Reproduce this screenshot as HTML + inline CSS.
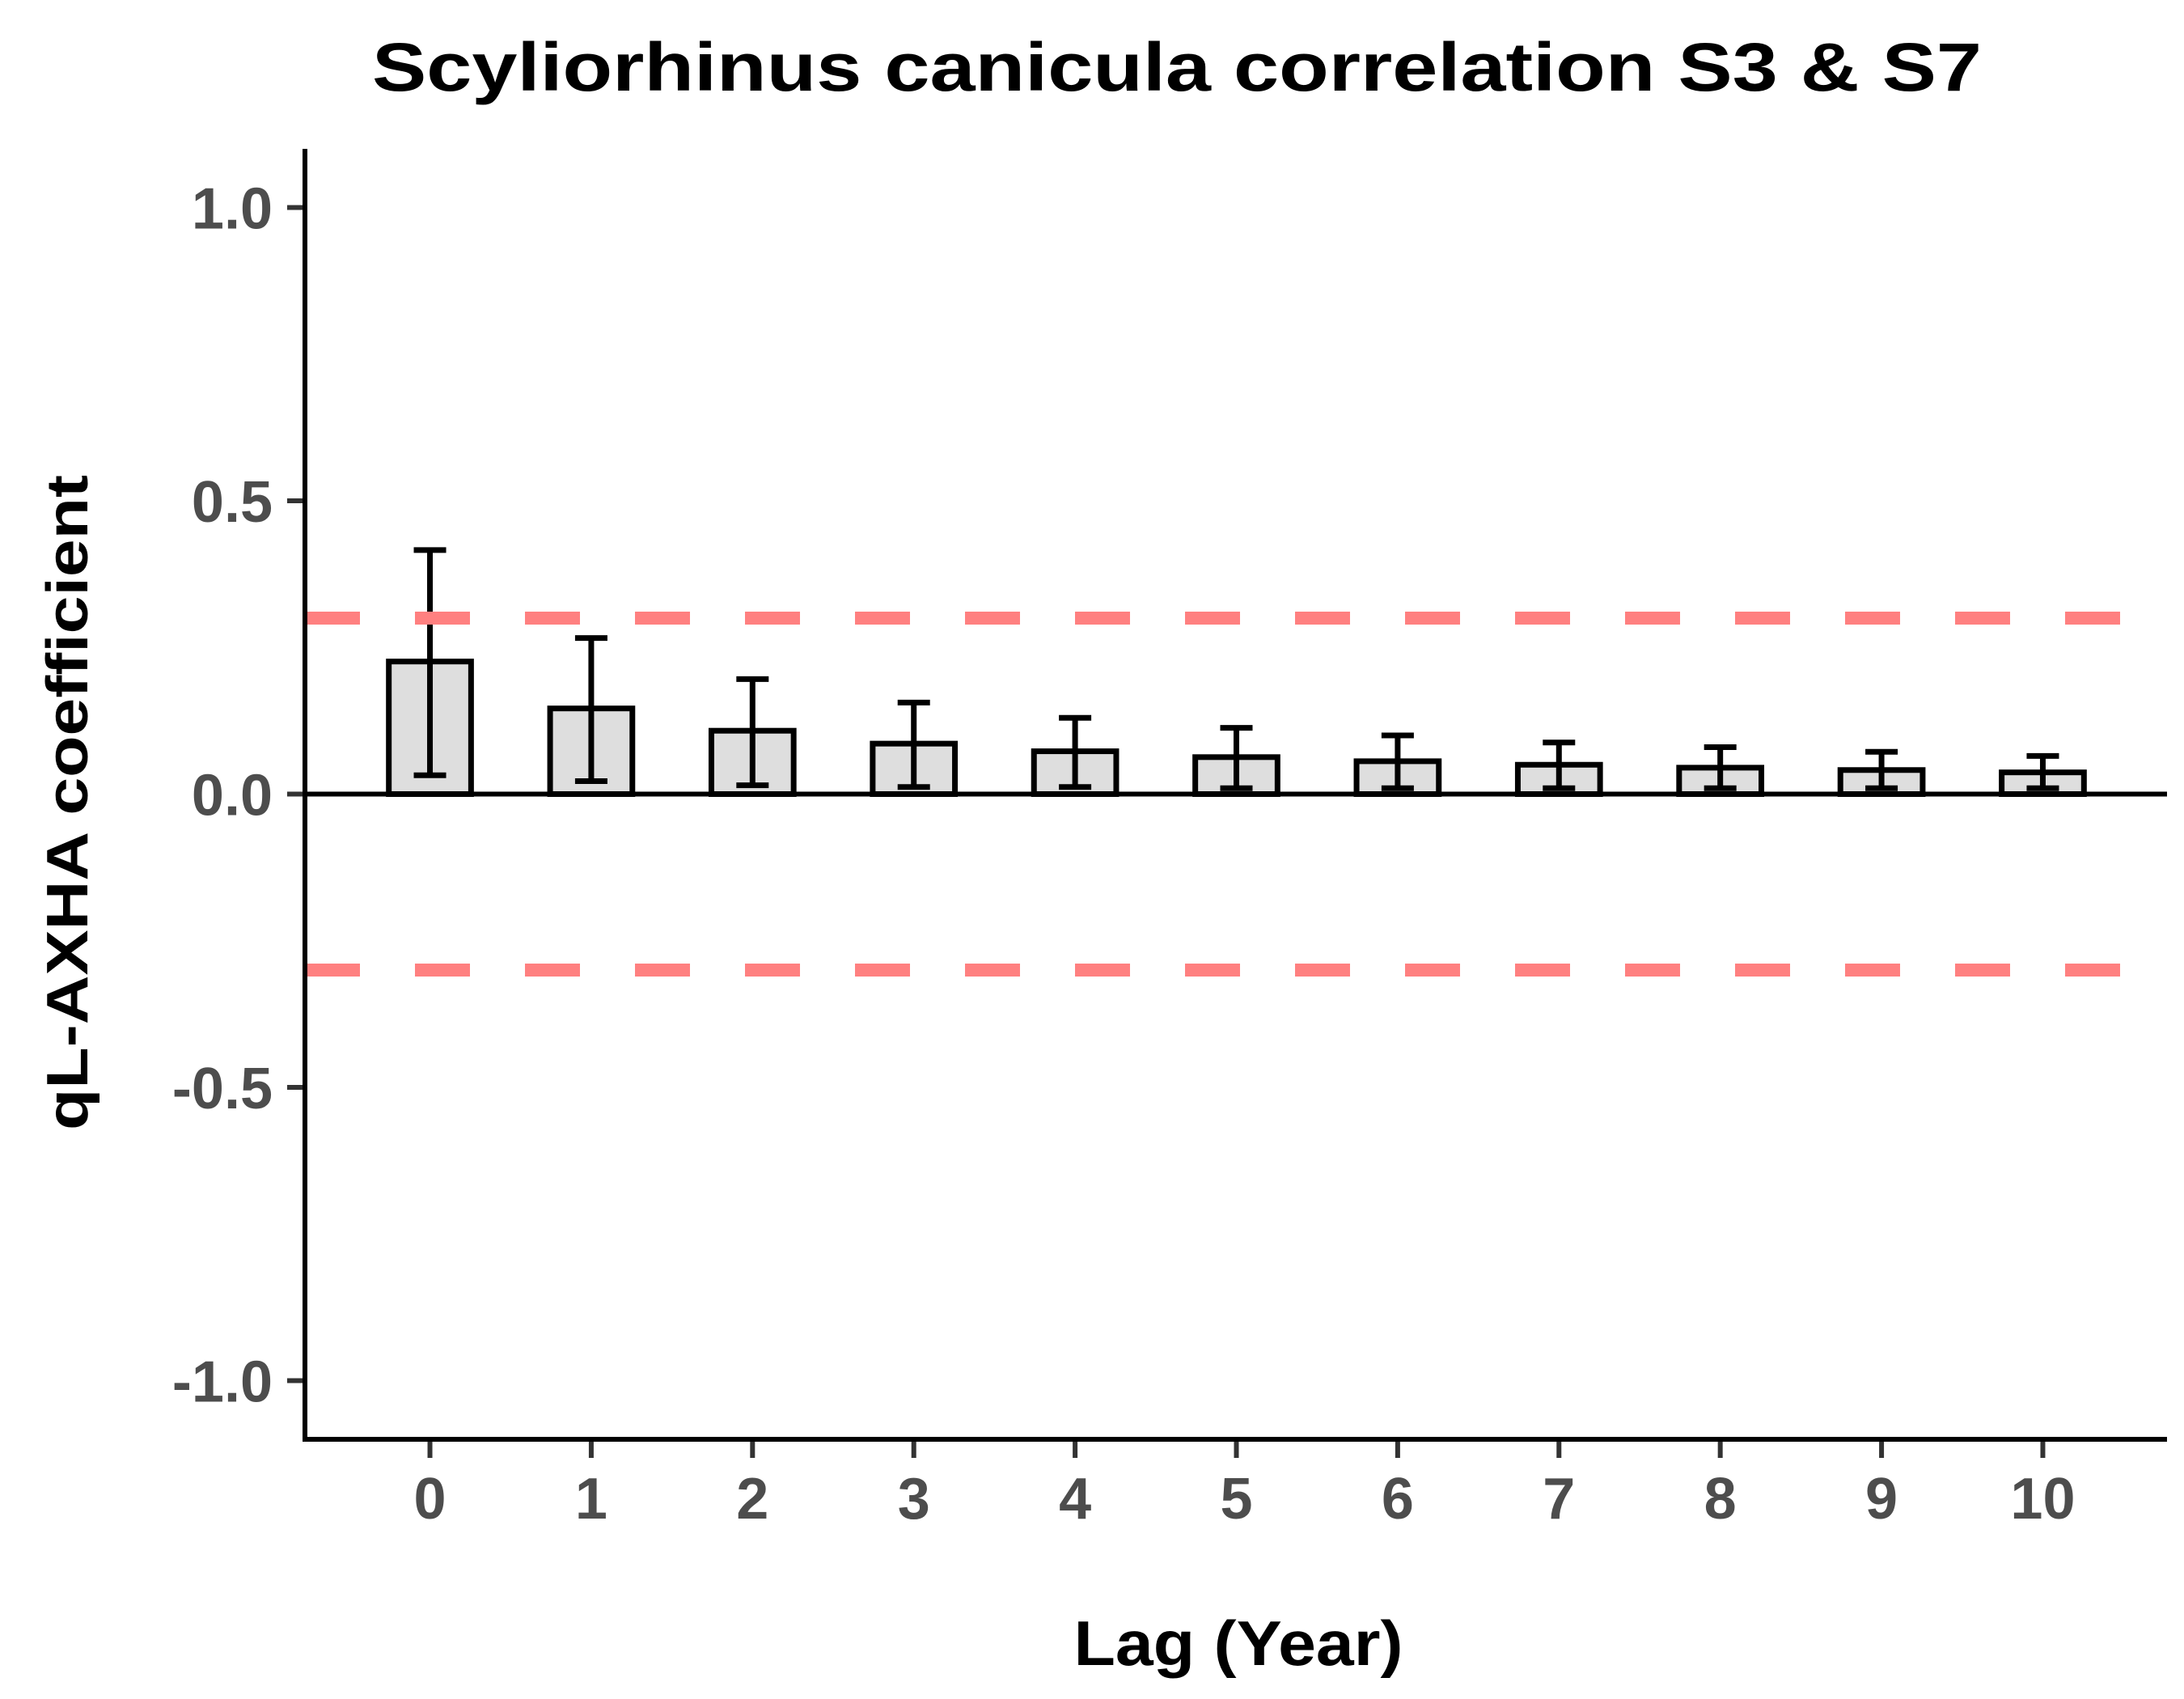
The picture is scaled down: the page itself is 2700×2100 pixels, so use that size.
<!DOCTYPE html>
<html><head><meta charset="utf-8"><style>
html,body{margin:0;padding:0;background:#fff;}
svg{display:block;font-family:"Liberation Sans",Arial,sans-serif;}
</style></head><body>
<svg id="chart" width="2700" height="2100" viewBox="0 0 2700 2100" xmlns="http://www.w3.org/2000/svg">
<rect width="2700" height="2100" fill="#fff"/>
<text x="1455" y="112" font-size="84" font-weight="bold" text-anchor="middle" textLength="1990" lengthAdjust="spacingAndGlyphs">Scyliorhinus canicula correlation S3 &amp; S7</text>
<text transform="translate(108,992) rotate(-90)" font-size="72" font-weight="bold" text-anchor="middle" textLength="810" lengthAdjust="spacingAndGlyphs">qL-AXHA coefficient</text>
<text x="1531" y="2058" font-size="78" font-weight="bold" text-anchor="middle" textLength="407" lengthAdjust="spacingAndGlyphs">Lag (Year)</text>
<g id="plot"></g>
</svg>
<script>
const lags = [0,1,2,3,4,5,6,7,8,9,10];
const coef = [0.226,0.146,0.108,0.086,0.073,0.063,0.056,0.050,0.045,0.041,0.037];
const upper = [0.416,0.266,0.196,0.156,0.130,0.113,0.100,0.088,0.080,0.072,0.065];
const lower = [0.032,0.022,0.015,0.012,0.012,0.010,0.010,0.010,0.010,0.010,0.010];
const yTicks = [1.0,0.5,0.0,-0.5,-1.0];
const yTickLabels = ["1.0","0.5","0.0","-0.5","-1.0"];
const threshold = [0.3,-0.3];

const NS="http://www.w3.org/2000/svg";
const g=document.getElementById('plot');
const X0=377,X1=2679,Y0=184,Y1=1779;
const xMin=-0.775,xMax=10.77,yMin=-1.1,yMax=1.1;
function sx(v){return X0+(v-xMin)/(xMax-xMin)*(X1-X0);}
function sy(v){return Y1-(v-yMin)/(yMax-yMin)*(Y1-Y0);}
function mk(tag,attrs){const e=document.createElementNS(NS,tag);for(const k in attrs)e.setAttribute(k,attrs[k]);g.appendChild(e);return e;}

yTicks.forEach((v,i)=>{
  const t=mk('line',{x1:355,x2:X0,y1:sy(v),y2:sy(v),stroke:'#333',"stroke-width":6});
  
  
  const l=mk('text',{x:337,y:sy(v)+26,"font-size":72,"font-weight":"bold",fill:'#4d4d4d',"text-anchor":"end"});
  l.textContent=yTickLabels[i];
  
  
});
lags.forEach(v=>{
  const t=mk('line',{x1:sx(v),x2:sx(v),y1:Y1,y2:1802,stroke:'#333',"stroke-width":6});
  
  
  const l=mk('text',{x:sx(v),y:1877,"font-size":72,"font-weight":"bold",fill:'#4d4d4d',"text-anchor":"middle"});
  l.textContent=String(v);
  
  
});
const bw=0.51;
lags.forEach((v,i)=>{
  const x=sx(v-bw/2), w=sx(v+bw/2)-x;
  const b=mk('rect',{x:x,y:sy(coef[i]),width:w,height:sy(0)-sy(coef[i]),fill:'#dedede',stroke:'#000',"stroke-width":7});
  
  
});
const z=mk('line',{x1:X0,x2:X1,y1:sy(0),y2:sy(0),stroke:'#000',"stroke-width":6});


lags.forEach((v,i)=>{
  const cx=sx(v);
  const e=mk('path',{d:`M${cx-20},${sy(upper[i])}H${cx+20}M${cx},${sy(upper[i])}V${sy(lower[i])}M${cx-20},${sy(lower[i])}H${cx+20}`,stroke:'#000',"stroke-width":7,fill:'none'});
  
  
});
threshold.forEach(v=>{
  const d=mk('line',{x1:X0,x2:X1,y1:sy(v),y2:sy(v),stroke:'#ff8080',"stroke-width":16,"stroke-dasharray":"68 68","stroke-dashoffset":"0"});
  
  
});
const ya=mk('line',{x1:X0,x2:X0,y1:Y0,y2:Y1+3,stroke:'#000',"stroke-width":6});


const xa=mk('line',{x1:X0-3,x2:X1,y1:Y1,y2:Y1,stroke:'#000',"stroke-width":6});


</script>
</body></html>
